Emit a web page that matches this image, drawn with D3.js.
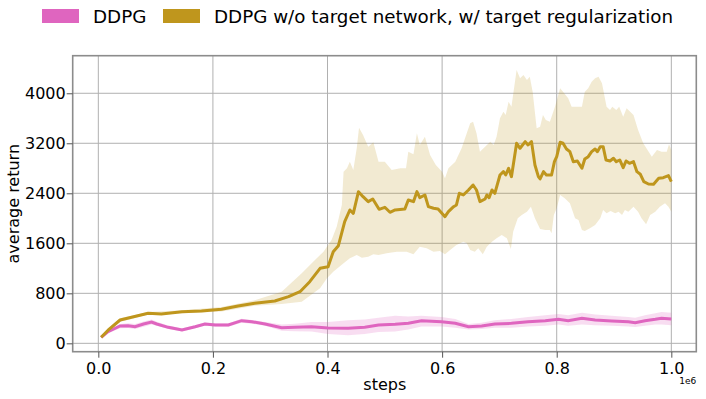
<!DOCTYPE html>
<html>
<head>
<meta charset="utf-8">
<script src="https://cdn.jsdelivr.net/npm/d3@7"></script>
<style>
  body { margin: 0; background: #fff; }
  text { font-family: "DejaVu Sans", sans-serif; fill: #000; }
</style>
</head>
<body>
<svg id="chart" width="706" height="399"></svg>
<script>
// data, steps in units of 1e6
var seriesNames = ["DDPG", "DDPG w/o target network, w/ target regularization"];
var seriesColors = ["#df65bf", "#bf961d"];

var xTicks = [0.0, 0.2, 0.4, 0.6, 0.8, 1.0];
var yTicks = [0, 800, 1600, 2400, 3200, 4000];

var ddpgSteps = [0.005, 0.017, 0.038, 0.052, 0.064, 0.079, 0.093, 0.102, 0.122, 0.146, 0.169, 0.186, 0.204, 0.227,
  0.25, 0.268, 0.291, 0.32, 0.343, 0.372, 0.401, 0.436, 0.465, 0.489, 0.518, 0.541, 0.564, 0.599, 0.623, 0.646,
  0.669, 0.692, 0.721, 0.75, 0.78, 0.803, 0.82, 0.844, 0.867, 0.896, 0.925, 0.937, 0.954, 0.972, 0.983, 1.0];
var ddpgMean = [96, 186, 277, 282, 266, 309, 341, 309, 256, 213, 266, 309, 293, 293,
  362, 346, 309, 250, 256, 266, 245, 240, 256, 293, 304, 320, 362, 346, 320, 266,
  277, 309, 320, 346, 362, 384, 362, 400, 373, 357, 346, 330, 362, 384, 400, 389];
var ddpgLow = [80, 160, 240, 245, 230, 265, 300, 280, 230, 190, 240, 285, 270, 265,
  330, 315, 280, 200, 195, 190, 150, 130, 150, 180, 190, 220, 270, 270, 250, 220,
  230, 250, 250, 270, 280, 300, 280, 300, 290, 280, 270, 260, 280, 300, 300, 290];
var ddpgHigh = [110, 210, 310, 320, 310, 350, 380, 345, 285, 240, 290, 335, 320, 320,
  395, 375, 340, 300, 315, 340, 340, 370, 380, 410, 440, 430, 440, 420, 390, 310,
  330, 370, 390, 420, 450, 470, 450, 490, 460, 440, 420, 410, 450, 480, 500, 490];

var goldSteps = [0.005, 0.017, 0.038, 0.058, 0.087, 0.11, 0.146, 0.18, 0.215, 0.244, 0.273, 0.308, 0.332, 0.352,
  0.369, 0.387, 0.401, 0.41, 0.419, 0.43, 0.439, 0.445, 0.454, 0.462, 0.471, 0.479, 0.49, 0.5, 0.509, 0.518,
  0.535, 0.541, 0.55, 0.556, 0.561, 0.57, 0.576, 0.585, 0.593, 0.605, 0.611, 0.62, 0.625, 0.63, 0.637, 0.646,
  0.654, 0.66, 0.666, 0.675, 0.678, 0.682, 0.687, 0.692, 0.701, 0.707, 0.711, 0.716, 0.721, 0.73, 0.736, 0.745,
  0.75, 0.756, 0.762, 0.768, 0.771, 0.777, 0.782, 0.791, 0.796, 0.8, 0.806, 0.811, 0.817, 0.823, 0.829, 0.836,
  0.844, 0.849, 0.855, 0.861, 0.867, 0.871, 0.876, 0.881, 0.886, 0.893, 0.899, 0.904, 0.91, 0.916, 0.921, 0.927,
  0.934, 0.94, 0.946, 0.952, 0.96, 0.969, 0.978, 0.986, 0.995, 1.0];
var goldMean = [96, 210, 373, 416, 480, 469, 506, 517, 544, 597, 640, 677, 746, 826,
  986, 1200, 1226, 1466, 1562, 1946, 2133, 2080, 2426, 2346, 2266, 2309, 2144, 2176, 2096, 2133,
  2149, 2293, 2266, 2426, 2330, 2373, 2186, 2160, 2149, 2026, 2106, 2186, 2213, 2400, 2373, 2453,
  2533, 2453, 2266, 2309, 2373, 2330, 2453, 2400, 2693, 2746, 2693, 2800, 2666, 3200, 3120, 3226,
  3173, 3226, 2853, 2666, 2629, 2746, 2693, 2693, 2906, 2986, 3216, 3200, 3109, 3066, 2906, 2917,
  2800, 2949, 2986, 3066, 3109, 3066, 3146, 3146, 2933, 2917, 2960, 2906, 2933, 2810, 2917, 2880,
  2906, 2746, 2704, 2586, 2549, 2544, 2640, 2650, 2682, 2586];

// band edges, [step, value]
var goldUpper = [[0.005, 110], [0.038, 400], [0.087, 500], [0.146, 530], [0.215, 580], [0.273, 690], [0.32, 826],
  [0.355, 1120], [0.375, 1306], [0.393, 1466], [0.407, 1653], [0.416, 1866], [0.425, 2213], [0.428, 2746],
  [0.434, 2800], [0.439, 2906], [0.445, 2773], [0.451, 3120], [0.455, 3450], [0.462, 3333], [0.471, 3146],
  [0.48, 3216], [0.489, 2906], [0.5, 2906], [0.512, 2773], [0.527, 2800], [0.537, 2800], [0.541, 3066],
  [0.55, 3024], [0.556, 3360], [0.561, 3173], [0.57, 3306], [0.579, 3013], [0.589, 2853], [0.6, 2746],
  [0.605, 2640], [0.611, 2800], [0.623, 2906], [0.634, 3120], [0.649, 3520], [0.654, 3546], [0.66, 3360],
  [0.666, 3066], [0.675, 3146], [0.684, 3226], [0.69, 3173], [0.695, 3306], [0.701, 3600], [0.707, 3706],
  [0.711, 3653], [0.716, 3866], [0.721, 3786], [0.73, 4373], [0.736, 4240], [0.742, 4293], [0.748, 4213],
  [0.753, 4266], [0.758, 4026], [0.765, 3440], [0.771, 3466], [0.776, 3653], [0.781, 3573], [0.788, 3546],
  [0.797, 3786], [0.806, 4080], [0.811, 4026], [0.82, 3920], [0.826, 3786], [0.835, 3786], [0.844, 3786],
  [0.849, 4026], [0.855, 4080], [0.861, 4186], [0.867, 4240], [0.873, 4266], [0.879, 4160], [0.887, 3786],
  [0.893, 3733], [0.897, 3786], [0.904, 3733], [0.909, 3786], [0.916, 3626], [0.922, 3760], [0.934, 3653],
  [0.942, 3413], [0.951, 3200], [0.966, 2986], [0.975, 3093], [0.983, 3066], [0.992, 3066], [0.996, 3184],
  [1.0, 3093]];
var goldLower = [[0.005, 80], [0.038, 340], [0.087, 460], [0.146, 480], [0.215, 510], [0.273, 600], [0.32, 630],
  [0.355, 666], [0.387, 880], [0.399, 1040], [0.41, 1146], [0.428, 1280], [0.439, 1360], [0.451, 1413],
  [0.46, 1370], [0.471, 1386], [0.48, 1424], [0.489, 1413], [0.503, 1440], [0.521, 1466], [0.538, 1466],
  [0.55, 1424], [0.561, 1546], [0.573, 1520], [0.585, 1466], [0.596, 1477], [0.605, 1424], [0.614, 1493],
  [0.625, 1573], [0.637, 1626], [0.643, 1600], [0.649, 1493], [0.657, 1466], [0.663, 1520], [0.671, 1424],
  [0.678, 1546], [0.687, 1626], [0.695, 1680], [0.704, 1733], [0.713, 1680], [0.72, 1509], [0.724, 1786],
  [0.732, 2000], [0.739, 2053], [0.748, 2106], [0.755, 2186], [0.762, 2000], [0.771, 1829], [0.78, 1813],
  [0.788, 1813], [0.791, 1760], [0.795, 2053], [0.8, 2160], [0.806, 2373], [0.814, 2320], [0.823, 2240],
  [0.832, 2000], [0.838, 1973], [0.844, 1813], [0.849, 1797], [0.858, 1840], [0.867, 1893], [0.876, 2000],
  [0.881, 2133], [0.887, 2080], [0.894, 2117], [0.902, 2080], [0.908, 2106], [0.914, 2053], [0.919, 2133],
  [0.925, 2106], [0.934, 2186], [0.942, 2106], [0.948, 2000], [0.956, 1904], [0.963, 2053], [0.972, 2106],
  [0.98, 2186], [0.989, 2240], [0.995, 2186], [1.0, 2106]];

// layout (plain "top" clashes with window.top, so prefix everything)
var plotLeft = 72.7, plotRight = 696.3, plotTop = 55.7, plotBottom = 351.7;

var svg = d3.select("#chart");

var x = d3.scaleLinear().domain([-0.0447, 1.0436]).range([plotLeft, plotRight]);
var y = d3.scaleLinear().domain([-134, 4601]).range([plotBottom, plotTop]);

var fmtX = d3.format(".1f");

// grid
var grid = svg.append("g").attr("stroke", "#b0b0b0").attr("stroke-width", 1);
grid.selectAll(".gx").data(xTicks).enter().append("line")
    .attr("x1", function(d) { return x(d); }).attr("x2", function(d) { return x(d); })
    .attr("y1", plotTop).attr("y2", plotBottom);
grid.selectAll(".gy").data(yTicks).enter().append("line")
    .attr("y1", function(d) { return y(d); }).attr("y2", function(d) { return y(d); })
    .attr("x1", plotLeft).attr("x2", plotRight);

var line = d3.line()
    .x(function(d) { return x(d[0]); })
    .y(function(d) { return y(d[1]); });

var area = d3.area()
    .x(function(d) { return x(d[0]); })
    .y0(function(d) { return y(d[2]); })
    .y1(function(d) { return y(d[3]); });

// DDPG
var ddpg = ddpgSteps.map(function(s, i) { return [s, ddpgMean[i], ddpgLow[i], ddpgHigh[i]]; });
svg.append("path")
    .attr("d", area(ddpg))
    .attr("fill", seriesColors[0]).attr("fill-opacity", 0.22);

// gold band as polygon: upper forward, lower backward
var goldPoly = goldUpper.concat(goldLower.slice().reverse());
svg.append("path")
    .attr("d", line(goldPoly) + "Z")
    .attr("fill", seriesColors[1]).attr("fill-opacity", 0.2);

svg.append("path")
    .attr("d", line(ddpg))
    .attr("fill", "none").attr("stroke", seriesColors[0]).attr("stroke-width", 3);

var gold = goldSteps.map(function(s, i) { return [s, goldMean[i]]; });
svg.append("path")
    .attr("d", line(gold))
    .attr("fill", "none").attr("stroke", seriesColors[1]).attr("stroke-width", 3)
    .attr("stroke-linejoin", "round");

// spines
svg.append("rect")
    .attr("x", plotLeft).attr("y", plotTop)
    .attr("width", plotRight - plotLeft).attr("height", plotBottom - plotTop)
    .attr("fill", "none").attr("stroke", "#8c8c8c").attr("stroke-width", 1.6);

// axes
var xAxis = d3.axisBottom(x).tickValues(xTicks).tickFormat(fmtX).tickSize(6).tickPadding(5);
var yAxis = d3.axisLeft(y).tickValues(yTicks).tickFormat(d3.format("d")).tickSize(6).tickPadding(1);

var gx = svg.append("g").attr("transform", "translate(0," + plotBottom + ")").call(xAxis);
var gy = svg.append("g").attr("transform", "translate(" + plotLeft + ",0)").call(yAxis);
[gx, gy].forEach(function(g) {
  g.select(".domain").remove();
  g.selectAll(".tick line").attr("stroke", "#555").attr("stroke-width", 1);
  g.selectAll(".tick text").style("font-size", "16px").style("font-family", "DejaVu Sans").attr("fill", "#000");
});

svg.append("text")
    .attr("x", (x(0) + x(1)) / 2).attr("y", 390)
    .attr("text-anchor", "middle").style("font-size", "16px")
    .text("steps");

svg.append("text")
    .attr("x", plotRight).attr("y", 384)
    .attr("text-anchor", "end").style("font-size", "9px")
    .text("1e6");

svg.append("text")
    .attr("transform", "translate(19," + (plotTop + plotBottom) / 2 + ") rotate(-90)")
    .attr("text-anchor", "middle").style("font-size", "16px")
    .text("average return");

// legend
var legendX = [42, 163];
seriesNames.forEach(function(name, i) {
  svg.append("rect")
      .attr("x", legendX[i]).attr("y", 9).attr("width", 37).attr("height", 14)
      .attr("fill", seriesColors[i]);
  svg.append("text")
      .attr("x", legendX[i] + 51).attr("y", 23)
      .style("font-size", "18.3px")
      .text(name);
});
</script>
</body>
</html>
